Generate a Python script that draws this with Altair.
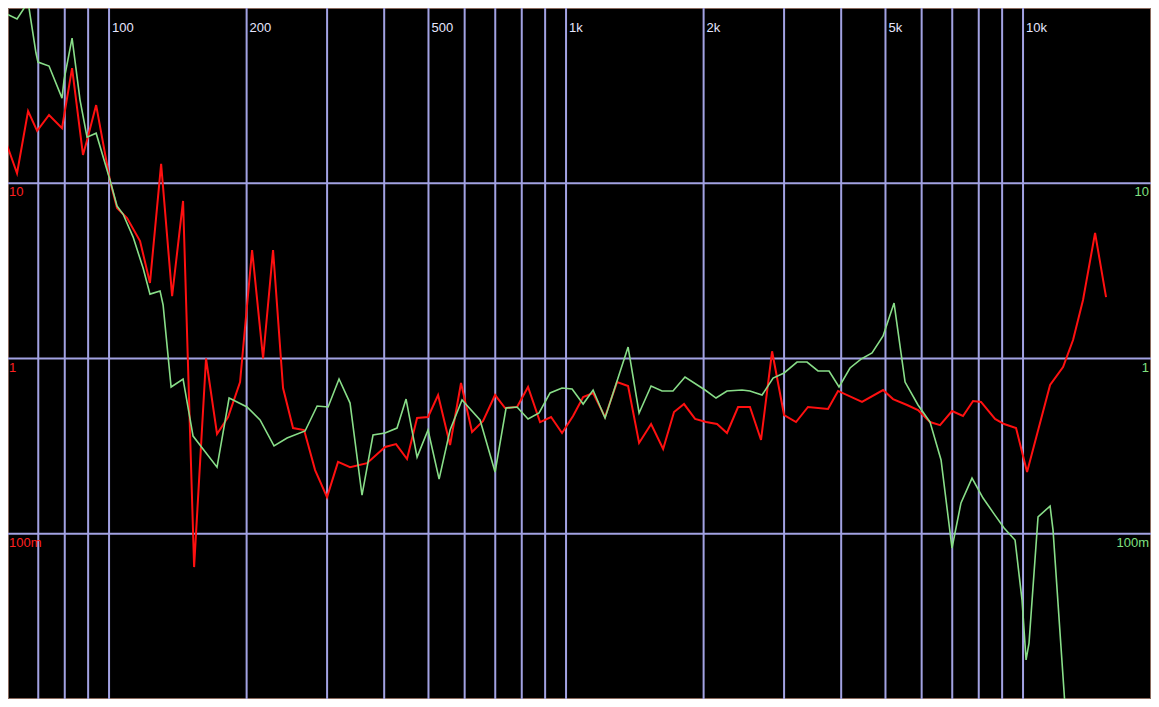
import altair as alt
import pandas as pd

# ---- data ----
red_freq = [59.8, 62.9, 66.5, 69.6, 73.9, 78.9, 83.0, 87.7, 89.5, 93.7,
            100.5, 104.1, 109.5, 116.9, 122.9, 130.0, 137.4, 145.2, 153.5, 163.0,
            172.3, 182.2, 193.5, 205.6, 217.3, 228.5, 240.3, 252.7, 267.2, 282.4,
            299.9, 317.0, 336.8, 366.9, 401.8, 424.6, 448.8, 472.1, 498.9, 524.8,
            557.5, 589.1, 622.8, 658.3, 699.3, 735.5, 781.2, 825.7, 877.3, 927.3,
            980, 1036, 1090, 1146, 1217, 1293, 1367, 1445, 1535, 1631,
            1723, 1812, 1916, 2025, 2140, 2250, 2379, 2526, 2671, 2824,
            3000, 3186, 3384, 3743, 3937, 4443, 4940, 5194, 5575, 5891,
            6259, 6582, 6991, 7390, 7774, 8092, 8685, 9088, 9654, 10205,
            11460, 12234, 12866, 13529, 14376, 15193]
red_val = [16.5, 11.4, 25.8, 19.9, 24.5, 20.6, 45.4, 14.5, 17.6, 27.9,
           10.3, 7.22, 6.33, 4.68, 2.70, 12.9, 2.27, 7.92, 0.0646, 1.0,
           0.371, 0.464, 0.734, 4.16, 1.0, 4.16, 0.679, 0.401, 0.391, 0.231,
           0.162, 0.257, 0.240, 0.253, 0.313, 0.325, 0.267, 0.458, 0.464, 0.619,
           0.321, 0.725, 0.381, 0.440, 0.619, 0.522, 0.529, 0.688, 0.434, 0.464,
           0.376, 0.470, 0.603, 0.636, 0.464, 0.734, 0.697, 0.330, 0.423, 0.305,
           0.495, 0.550, 0.452, 0.434, 0.423, 0.376, 0.529, 0.529, 0.343, 1.10,
           0.476, 0.434, 0.529, 0.515, 0.653, 0.565, 0.661, 0.587, 0.543, 0.508,
           0.434, 0.417, 0.502, 0.470, 0.572, 0.565, 0.452, 0.423, 0.401, 0.225,
           0.706, 0.894, 1.275, 2.157, 5.20, 2.24]

green_freq = [59.8, 62.9, 66.5, 69.2, 69.9, 73.9, 78.9, 79.7, 83.0, 86.4,
              89.5, 93.7, 100.5, 104.1, 107.3, 112.9, 118.7, 122.9, 129.3, 131.3,
              136.7, 145.2, 152.7, 172.3, 183.1, 200.4, 214.0, 229.6, 245.2, 268.5,
              285.3, 301.5, 318.6, 336.8, 357.7, 378.1, 401.8, 426.7, 446.6, 472.1,
              498.9, 527.5, 557.5, 592.1, 648.4, 699.3, 739.2, 781.2, 825.7, 872.9,
              922.6, 980, 1031, 1090, 1146, 1217, 1367, 1445, 1535, 1622,
              1714, 1821, 2015, 2129, 2250, 2427, 2526, 2685, 2838, 3000,
              3202, 3368, 3559, 3763, 3957, 4182, 4420, 4673, 4940, 5221,
              5519, 5891, 6259, 6616, 6991, 7315, 7733, 8175, 8641, 9088,
              9605, 9950, 10153, 10306, 10785, 11460, 11632, 12359, 12804]
green_val = [92.3, 86.4, 108, 55.3, 49.1, 46.6, 30.6, 38.8, 67.3, 29.8,
             18.3, 19.3, 10.4, 7.41, 6.67, 4.93, 3.28, 2.33, 2.43, 2.02,
             0.688, 0.764, 0.361, 0.240, 0.595, 0.529, 0.446, 0.317, 0.352, 0.386,
             0.536, 0.529, 0.764, 0.557, 0.166, 0.366, 0.376, 0.401, 0.587, 0.274,
             0.391, 0.205, 0.391, 0.580, 0.446, 0.225, 0.522, 0.529, 0.452, 0.489,
             0.636, 0.679, 0.670, 0.550, 0.661, 0.458, 1.163, 0.489, 0.697, 0.653,
             0.653, 0.784, 0.661, 0.595, 0.653, 0.661, 0.653, 0.619, 0.774, 0.827,
             0.955, 0.955, 0.849, 0.849, 0.688, 0.883, 0.993, 1.075, 1.344, 2.073,
             0.734, 0.543, 0.434, 0.264, 0.0830, 0.150, 0.208, 0.160, 0.130, 0.108,
             0.0922, 0.0419, 0.0191, 0.0238, 0.125, 0.144, 0.105, 0.0103, 0.0051]

grid_freq = [70, 80, 90, 100, 200, 300, 400, 500, 600, 700, 800, 900,
             1000, 2000, 3000, 4000, 5000, 6000, 7000, 8000, 9000, 10000]
grid_val = [0.1, 1, 10]

x_label_freq = [100, 200, 500, 1000, 2000, 5000, 10000]
x_label_text = ["100", "200", "500", "1k", "2k", "5k", "10k"]
y_label_val = [10, 1, 0.1]
y_label_text = ["10", "1", "100m"]

W, H = 1143, 691

red_df = pd.DataFrame({"f": red_freq, "v": red_val})
green_df = pd.DataFrame({"f": green_freq, "v": green_val})
gx_df = pd.DataFrame({"f": grid_freq})
gy_df = pd.DataFrame({"v": grid_val})
xl_df = pd.DataFrame({"f": x_label_freq, "t": x_label_text})
yl_df = pd.DataFrame({"v": y_label_val, "t": y_label_text})

xs = alt.Scale(type="log", domain=[60.1, 19055], nice=False)
ys = alt.Scale(type="log", domain=[0.01142, 99.9], nice=False)
X = lambda: alt.X("f:Q", scale=xs, axis=None)
Y = lambda: alt.Y("v:Q", scale=ys, axis=None)

grid_color = "#a2a2e2"
vgrid = alt.Chart(gx_df).mark_rule(color=grid_color, strokeWidth=2).encode(x=X())
hgrid = alt.Chart(gy_df).mark_rule(color=grid_color, strokeWidth=2).encode(y=Y())

red_line = alt.Chart(red_df).mark_line(color="#ff1010", strokeWidth=2, clip=True).encode(x=X(), y=Y())
green_line = alt.Chart(green_df).mark_line(color="#88dd88", strokeWidth=1.6, clip=True).encode(x=X(), y=Y())

font = "Liberation Sans"
xlabels = alt.Chart(xl_df).mark_text(
    align="left", baseline="top", dx=3, font=font, fontSize=13, color="#e6e6ff"
).encode(x=X(), y=alt.value(14), text="t:N")
ylabels_left = alt.Chart(yl_df).mark_text(
    align="left", baseline="top", dy=3, font=font, fontSize=13, color="#ff2020"
).encode(x=alt.value(1), y=Y(), text="t:N")
ylabels_right = alt.Chart(yl_df).mark_text(
    align="right", baseline="top", dy=3, font=font, fontSize=13, color="#80e080"
).encode(x=alt.value(W - 2), y=Y(), text="t:N")

chart = alt.layer(
    vgrid, hgrid, red_line, green_line, xlabels, ylabels_left, ylabels_right
).properties(
    width=W, height=H, background="#000000", padding=0,
    autosize=alt.AutoSizeParams(type="none")
).configure_view(
    fill="#000000", stroke="#8a6a5e", strokeWidth=2
)

chart.save("out.html", embed_options={"renderer": "svg", "actions": False})
